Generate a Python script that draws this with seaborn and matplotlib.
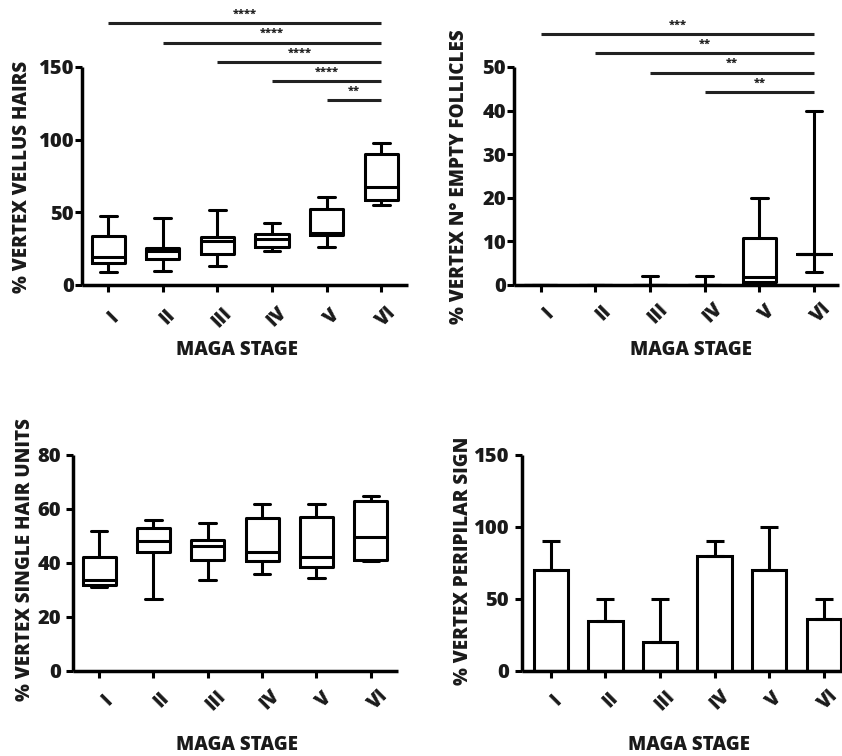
import numpy as np
import pandas as pd
import matplotlib
matplotlib.use("Agg")
import matplotlib.pyplot as plt
import matplotlib.transforms as mtransforms
import seaborn as sns

# ---------------- data ----------------
stages = ["I", "II", "III", "IV", "V", "VI"]

# five-number summaries per stage: min, q1, median, q3, max
vellus_I = [9.2, 15.0, 19.0, 33.7, 47.5]
vellus_II = [9.9, 18.1, 23.6, 25.5, 46.3]
vellus_III = [13.0, 21.0, 30.5, 33.0, 51.6]
vellus_IV = [23.6, 26.4, 31.4, 34.9, 42.4]
vellus_V = [26.1, 34.2, 35.5, 52.5, 60.3]
vellus_VI = [54.8, 58.3, 67.7, 89.9, 97.5]

empty_I = [0, 0, 0, 0, 0]
empty_II = [0, 0, 0, 0, 0]
empty_III = [0, 0, 0, 0, 2]
empty_IV = [0, 0, 0, 0, 2]
empty_V = [0, 0.8, 1.9, 10.7, 20]
empty_VI = [3, 7, 7, 7, 40]

single_I = [31.0, 32.0, 33.6, 42.1, 52.0]
single_II = [26.7, 44.0, 48.0, 52.8, 56.0]
single_III = [33.8, 41.1, 46.2, 48.6, 55.0]
single_IV = [36.1, 40.6, 44.0, 56.6, 61.9]
single_V = [34.3, 38.4, 42.2, 56.9, 61.9]
single_VI = [40.6, 41.2, 49.6, 62.8, 65.0]

peripilar_mean = [70, 35, 20, 80, 70, 36]
peripilar_err = [20, 15, 30, 10, 30, 14]

vellus_sig = [("I", "VI", "****"), ("II", "VI", "****"), ("III", "VI", "****"),
              ("IV", "VI", "****"), ("V", "VI", "**")]
vellus_sig_y = [180, 166.8, 153.6, 140.4, 127]
empty_sig = [("I", "VI", "***"), ("II", "VI", "**"), ("III", "VI", "**"), ("IV", "VI", "**")]
empty_sig_y = [57.5, 53.1, 48.7, 44.3]


def long_df(groups):
    rows = []
    for st, vals in zip(stages, groups):
        for v in vals:
            rows.append({"stage": st, "value": v})
    return pd.DataFrame(rows)


vellus_df = long_df([vellus_I, vellus_II, vellus_III, vellus_IV, vellus_V, vellus_VI])
empty_df = long_df([empty_I, empty_II, empty_III, empty_IV, empty_V, empty_VI])
single_df = long_df([single_I, single_II, single_III, single_IV, single_V, single_VI])
peri_df = pd.DataFrame({"stage": stages, "value": peripilar_mean})

# ---------------- style ----------------
sns.set_style("ticks")
FONT = ["Open Sans", "DejaVu Sans"]
plt.rcParams["font.family"] = FONT
plt.rcParams["font.weight"] = "heavy"
WT = "heavy"
TXT = "#1a1a1a"

W, H = 842, 756
fig = plt.figure(figsize=(W / 100, H / 100), dpi=100)


def px_axes(left, right, bottom_px, top_px):
    return fig.add_axes([left / W, 1 - bottom_px / H, (right - left) / W, (bottom_px - top_px) / H])


ax1 = px_axes(82, 408, 285, 67)
ax2 = px_axes(514, 839, 285, 67)
ax3 = px_axes(73, 398, 671, 455)
ax4 = px_axes(522, 851, 671, 455)

box_kw = dict(x="stage", y="value", order=stages, whis=(0, 100), fill=False,
              color="black", linewidth=2.2, width=0.61)
sns.boxplot(data=vellus_df, ax=ax1, **box_kw)
sns.boxplot(data=empty_df, ax=ax2, **box_kw)
sns.boxplot(data=single_df, ax=ax3, **box_kw)

sns.barplot(data=peri_df, x="stage", y="value", order=stages, ax=ax4,
            color="white", edgecolor="black", linewidth=2.2, width=0.63, errorbar=None)
ax4.errorbar(x=np.arange(len(stages)), y=peripilar_mean,
             yerr=[np.zeros(len(stages)), peripilar_err], fmt="none",
             ecolor="black", elinewidth=2.2, capsize=6.5, capthick=2.2, zorder=1)

configs = [
    (ax1, (-0.48, 5.49), (0, 150), [0, 50, 100, 150], "% VERTEX VELLUS HAIRS",
     (0.475, -0.298), (-0.184, 0.495), 1, (5, -32)),
    (ax2, (-0.49, 5.46), (0, 50), [0, 10, 20, 30, 40, 50], "% VERTEX N° EMPTY FOLLICLES",
     (0.545, -0.298), (-0.169, 0.495), 1, (8, -28)),
    (ax3, (-0.48, 5.5), (0, 80), [0, 20, 40, 60, 80], "% VERTEX SINGLE HAIR UNITS",
     (0.505, -0.343), (-0.148, 0.514), 5, (8, -29)),
    (ax4, (-0.53, 5.5), (0, 150), [0, 50, 100, 150], "% VERTEX PERIPILAR SIGN",
     (0.508, -0.343), (-0.179, 0.509), 6, (5, -29)),
]

for ax, xl, yl, yt, ylab, xlab_pos, ylab_pos, ypad, lbl_off in configs:
    ax.set_xlim(*xl)
    ax.set_ylim(*yl)
    ax.set_yticks(yt)
    ax.set_xticks(range(len(stages)))
    ax.set_xticklabels([])
    sns.despine(ax=ax)
    for s in ("left", "bottom"):
        ax.spines[s].set_linewidth(2.5)
        ax.spines[s].set_color("black")
        ax.spines[s].set_capstyle("butt")
    ax.tick_params(axis="both", direction="out", length=5, width=2.2, color="black",
                   labelsize=14.5, labelcolor=TXT)
    ax.tick_params(axis="y", pad=ypad * 0.72)
    ax.set_ylabel(ylab, fontsize=13.5, fontweight=WT, color=TXT)
    ax.set_xlabel("MAGA STAGE", fontsize=13.5, fontweight=WT, color=TXT)
    ax.xaxis.label.set_va("center")
    ax.yaxis.label.set_va("center")
    ax.xaxis.set_label_coords(*xlab_pos)
    ax.yaxis.set_label_coords(*ylab_pos)
    for lab in ax.get_yticklabels():
        lab.set_fontweight(WT)
    ax.set_facecolor("none")
    offset = mtransforms.ScaledTranslation(lbl_off[0] / 100, lbl_off[1] / 100, fig.dpi_scale_trans)
    trans = mtransforms.blended_transform_factory(ax.transData, ax.transAxes) + offset
    for i, st in enumerate(stages):
        ax.text(i, 0, st, transform=trans, rotation=45, ha="center", va="center",
                fontsize=13.5, fontweight=WT, color=TXT)


def draw_sig(ax, comps, ys, fs):
    for (a, b, stars), y in zip(comps, ys):
        x0, x1 = stages.index(a), stages.index(b)
        ax.plot([x0, x1], [y, y], color="#222222", lw=2.2, clip_on=False, solid_capstyle="butt")
        ax.annotate(stars, xy=((x0 + x1) / 2, y), xytext=(0, 2.5), textcoords="offset points",
                    ha="center", va="bottom", fontsize=fs, fontweight=WT,
                    color="#222222", annotation_clip=False)


draw_sig(ax1, vellus_sig, vellus_sig_y, 8)
draw_sig(ax2, empty_sig, empty_sig_y, 8)

fig.savefig("out.png", dpi=100, facecolor="white")
